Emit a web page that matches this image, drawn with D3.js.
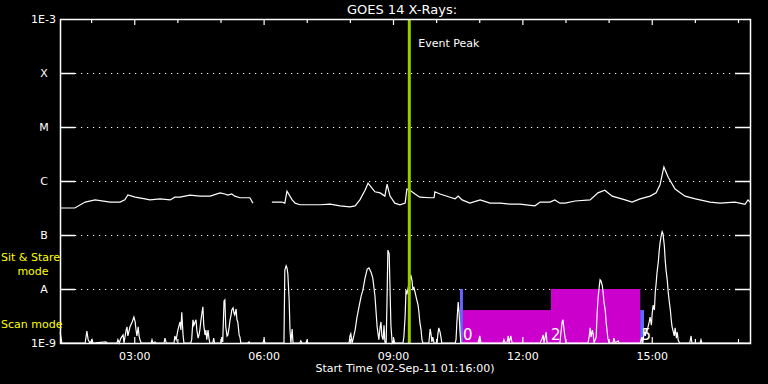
<!DOCTYPE html>
<html>
<head>
<meta charset="utf-8">
<script src="https://cdn.jsdelivr.net/npm/d3@7"></script>
<style>
  html, body { margin: 0; padding: 0; background: #000; }
  svg { display: block; font-family: "DejaVu Sans", sans-serif; }
</style>
</head>
<body>
<div id="chart"></div>
<script>
// GOES 14 x-ray flux, time in decimal hours (UT), flux as log10(W/m^2)
const START_HOUR = 1 + 16 / 60;
const END_HOUR = START_HOUR + 16;

const levelValues = [-9, -8, -7, -6, -5, -4, -3];
const levelLabels = ["1E-9", "A", "B", "C", "M", "X", "1E-3"];
const hourTicks = [2, 3, 4, 5, 6, 7, 8, 9, 10, 11, 12, 13, 14, 15, 16, 17];
const labelHours = [3, 6, 9, 12, 15];
const labelText = ["03:00", "06:00", "09:00", "12:00", "15:00"];

// long channel (1-8 A); null = data gap
const longTime = [1.27,1.61,1.85,2.08,2.43,2.66,2.77,2.84,3.01,3.24,3.35,3.59,3.82,3.93,4.05,4.28,4.51,4.75,4.98,5.09,5.16,5.25,5.32,5.44,5.67,5.74,5.95,
  6.18,6.41,6.48,6.53,6.65,6.72,6.83,7.06,7.30,7.53,7.76,7.99,8.11,8.22,8.34,8.41,8.50,8.57,8.69,8.80,8.85,8.92,9.03,9.15,9.27,9.31,9.38,9.50,9.61,9.85,9.94,9.96,
  10.08,10.31,10.43,10.50,10.59,10.77,11.01,11.24,11.47,11.70,11.93,12.28,12.40,12.63,12.74,12.86,12.98,13.21,13.56,13.74,13.90,14.07,14.37,14.53,14.72,14.95,
  15.09,15.18,15.27,15.37,15.53,15.76,16.00,16.34,16.57,16.92,17.15,17.22,17.27];
const longFlux = [-6.50,-6.50,-6.39,-6.35,-6.39,-6.39,-6.35,-6.26,-6.30,-6.33,-6.35,-6.33,-6.35,-6.30,-6.30,-6.26,-6.28,-6.28,-6.22,-6.24,-6.26,-6.24,-6.28,-6.31,-6.31,-6.41,null,
  -6.39,-6.39,-6.41,-6.19,-6.35,-6.41,-6.44,-6.44,-6.44,-6.43,-6.46,-6.48,-6.46,-6.35,-6.17,-6.04,-6.13,-6.20,-6.22,-6.28,-6.06,-6.28,-6.41,-6.44,-6.41,-6.15,-6.17,-6.24,-6.30,-6.31,-6.31,-6.20,
  -6.24,-6.30,-6.33,-6.28,-6.35,-6.41,-6.35,-6.41,-6.41,-6.43,-6.43,-6.46,-6.39,-6.39,-6.35,-6.41,-6.41,-6.37,-6.35,-6.22,-6.17,-6.28,-6.35,-6.39,-6.33,-6.28,
  -6.22,-6.07,-5.74,-5.93,-6.15,-6.28,-6.33,-6.39,-6.41,-6.39,-6.43,-6.35,-6.39];

// short channel (0.5-4 A); -9.3 = below the plotted range
const shortTime = [1.27,1.31,1.85,1.89,1.92,1.96,2.01,2.03,2.33,2.36,
  2.59,2.61,2.64,2.68,2.73,2.75,2.80,2.82,2.84,2.89,2.94,2.98,3.01,3.03,3.05,3.08,3.10,3.12,3.15,
  3.38,3.40,3.42,3.47,3.49,3.68,3.70,3.73,
  3.91,3.93,3.96,4.00,4.05,4.07,4.09,4.12,4.14,
  4.30,4.32,4.35,4.37,4.40,4.42,4.44,4.47,4.49,4.51,4.53,4.56,4.58,4.60,4.63,4.65,4.67,4.70,4.72,4.74,4.81,4.83,4.85,
  5.00,5.02,5.04,5.07,5.09,5.11,5.14,5.16,5.19,5.21,5.23,5.25,5.28,5.30,5.32,5.35,5.37,5.39,5.42,5.44,5.46,
  5.62,5.65,5.67,5.97,6.00,6.02,
  6.46,6.48,6.51,6.53,6.55,6.58,6.60,6.62,6.65,6.67,6.83,6.85,6.88,6.97,6.99,7.02,
  7.97,7.99,8.01,8.04,8.08,8.11,8.15,8.20,8.25,8.29,8.34,8.39,8.43,8.48,8.52,8.57,8.62,8.66,8.69,8.71,8.73,8.76,8.78,8.80,8.83,8.85,8.87,8.90,8.92,8.94,8.97,9.01,9.03,
  9.22,9.24,9.27,9.29,9.31,9.36,9.38,9.40,9.43,9.45,9.47,9.50,9.52,9.54,9.57,9.59,9.61,9.64,9.66,9.68,
  9.82,9.85,9.87,9.89,9.91,9.94,10.01,10.03,10.05,10.08,10.10,10.12,
  10.43,10.45,10.47,10.50,10.52,10.54,10.56,10.96,10.98,11.00,11.03,
  11.54,11.56,11.59,11.63,11.66,11.68,11.72,11.75,
  12.40,12.45,12.47,12.49,12.54,12.56,
  12.86,12.88,12.91,12.93,12.95,12.98,13.00,
  13.51,13.54,13.56,13.58,13.61,13.63,13.65,13.70,13.72,13.74,13.77,13.79,13.81,13.84,13.86,13.88,13.91,13.93,13.95,13.97,14.00,
  14.09,14.11,14.14,14.21,14.23,
  14.72,14.76,14.77,14.82,14.84,14.86,14.88,14.93,14.95,14.98,15.00,15.02,15.05,15.07,15.09,15.11,15.14,15.16,15.18,15.21,15.23,15.25,15.28,15.30,15.32,15.35,15.37,15.39,15.42,15.44,15.46,15.49,15.51,15.53,15.56,15.58,15.60,15.63,
  15.87,15.90,15.92,16.11,16.13,16.15,17.27];
const shortFlux = [-8.80,-9.3,-9.3,-8.78,-8.94,-9.3,-8.94,-9.3,-8.98,-9.3,
  -9.3,-8.94,-9.3,-8.91,-8.85,-9.0,-8.76,-8.70,-8.87,-8.70,-8.61,-8.52,-8.61,-8.76,-8.87,-8.70,-8.87,-8.94,-9.3,
  -9.3,-8.94,-9.3,-8.98,-9.3,-9.3,-8.91,-9.3,
  -9.3,-8.87,-8.94,-8.76,-8.61,-8.76,-8.43,-8.85,-9.3,
  -9.3,-8.94,-8.57,-8.67,-8.61,-8.57,-8.76,-8.91,-8.85,-8.76,-8.61,-8.43,-8.33,-8.67,-8.85,-8.76,-8.94,-8.76,-8.91,-9.3,-9.3,-8.91,-9.3,
  -9.3,-8.89,-8.98,-8.22,-8.20,-8.70,-8.87,-8.85,-8.70,-8.57,-8.50,-8.39,-8.35,-8.44,-8.48,-8.37,-8.57,-8.61,-8.85,-8.89,-9.3,
  -9.3,-8.98,-9.3,-9.3,-8.94,-9.3,
  -9.3,-7.65,-7.57,-7.61,-7.72,-8.20,-8.76,-9.3,-8.74,-9.3,-9.3,-8.96,-9.3,-9.3,-8.96,-9.3,
  -9.3,-8.87,-8.83,-9.3,-8.87,-8.76,-8.54,-8.33,-8.13,-8.02,-7.80,-7.63,-7.61,-7.69,-7.80,-8.13,-8.70,-8.94,-8.70,-8.61,-8.87,-8.94,-8.67,-8.98,-9.3,-8.20,-7.28,-7.35,-8.02,-8.67,-9.3,-8.94,-9.3,
  -9.3,-8.89,-8.50,-8.02,-8.10,-7.90,-7.80,-7.74,-7.85,-8.02,-7.96,-8.06,-8.13,-8.20,-8.30,-8.43,-8.61,-8.76,-8.94,-9.3,
  -9.3,-8.74,-8.83,-8.98,-8.89,-9.3,-9.3,-8.83,-8.72,-8.80,-8.89,-9.3,
  -9.3,-8.94,-8.61,-8.24,-8.44,-8.76,-9.3,-9.3,-8.94,-8.87,-9.3,
  -9.3,-8.94,-9.3,-9.3,-8.87,-9.3,-8.87,-9.3,
  -9.3,-8.91,-8.85,-9.3,-8.80,-9.3,
  -9.3,-8.83,-8.61,-8.57,-8.72,-8.91,-9.3,
  -9.3,-8.87,-8.72,-8.89,-8.76,-8.83,-9.3,-8.89,-8.48,-8.20,-7.96,-7.83,-7.85,-7.93,-8.06,-8.24,-8.39,-8.61,-8.76,-8.91,-9.3,
  -9.3,-8.91,-9.3,-8.96,-9.3,
  -9.3,-8.89,-9.0,-8.80,-8.87,-8.74,-8.78,-8.61,-8.52,-8.67,-8.44,-8.30,-8.39,-8.06,-7.90,-7.70,-7.50,-7.30,-7.15,-7.00,-6.94,-6.98,-7.20,-7.46,-7.65,-7.85,-8.06,-8.20,-8.39,-8.57,-8.70,-8.80,-8.87,-8.72,-8.91,-8.80,-8.94,-9.3,
  -9.3,-8.87,-9.3,-9.3,-8.94,-9.3,-9.3];

// instrument mode blocks (magenta) and switch markers (blue)
const modeStart = [10.61, 12.65];
const modeEnd = [12.65, 14.72];
const modeTop = [-8.39, -8.0];
const switchStart = [10.54, 14.72];
const switchEnd = [10.61, 14.81];
const switchTop = [-8.0, -8.39];
const modeLabelTime = [10.61, 12.65, 14.75];
const modeLabels = ["0", "2", "5"];

const EVENT_PEAK = 9 + 22 / 60;

const width = 768, height = 384;
const margin = { top: 19, right: 18, bottom: 41, left: 60 };

const x = d3.scaleLinear().domain([START_HOUR, END_HOUR]).range([margin.left, width - margin.right]);
const y = d3.scaleLinear().domain([-9, -3]).range([height - margin.bottom, margin.top]).clamp(true);

const svg = d3.select("#chart").append("svg")
    .attr("width", width)
    .attr("height", height)
    .style("background", "#000");

const x0 = x.range()[0], x1 = x.range()[1];

// dotted level lines
svg.append("g")
   .selectAll("line")
   .data(levelValues.slice(1, -1))
   .enter().append("line")
   .attr("x1", x0 + 15).attr("x2", x1 - 15)
   .attr("y1", d => y(d) + 0.5).attr("y2", d => y(d) + 0.5)
   .attr("stroke", "#fff")
   .attr("stroke-width", 1.2)
   .attr("stroke-dasharray", "1.2,4.8");

// mode blocks
svg.append("g")
   .selectAll("rect")
   .data(modeStart)
   .enter().append("rect")
   .attr("x", (d, i) => x(d))
   .attr("width", (d, i) => x(modeEnd[i]) - x(d))
   .attr("y", (d, i) => y(modeTop[i]))
   .attr("height", (d, i) => y(-9) - y(modeTop[i]))
   .attr("fill", "#cc00cc");

svg.append("g")
   .selectAll("rect")
   .data(switchStart)
   .enter().append("rect")
   .attr("x", (d, i) => x(d))
   .attr("width", (d, i) => x(switchEnd[i]) - x(d))
   .attr("y", (d, i) => y(switchTop[i]))
   .attr("height", (d, i) => y(-9) - y(switchTop[i]))
   .attr("fill", "#6666ff");

// flux curves
const longData = longTime.map((t, i) => [t, longFlux[i]]);
const shortData = shortTime.map((t, i) => [t, shortFlux[i]]);

const line = d3.line()
    .defined(d => d[1] != null)
    .x(d => x(d[0]))
    .y(d => y(d[1]));

svg.append("path")
   .datum(longData)
   .attr("d", line)
   .attr("fill", "none")
   .attr("stroke", "#fff")
   .attr("stroke-width", 1.2);

svg.append("path")
   .datum(shortData)
   .attr("d", line)
   .attr("fill", "none")
   .attr("stroke", "#fff")
   .attr("stroke-width", 1.2);

// mode numbers
svg.append("g")
   .selectAll("text")
   .data(modeLabels)
   .enter().append("text")
   .attr("x", (d, i) => x(modeLabelTime[i]))
   .attr("y", y(-9) - 3)
   .attr("fill", "#fff")
   .attr("font-size", 15)
   .text(d => d);

// event peak marker
svg.append("line")
   .attr("x1", x(EVENT_PEAK)).attr("x2", x(EVENT_PEAK))
   .attr("y1", y(-3)).attr("y2", y(-9))
   .attr("stroke", "#99cc00")
   .attr("stroke-width", 3);

svg.append("text")
   .attr("x", x(EVENT_PEAK) + 9)
   .attr("y", 47)
   .attr("fill", "#fff")
   .attr("font-size", 11)
   .text("Event Peak");

// frame
svg.append("rect")
   .attr("x", x0 + 0.5).attr("y", y(-3) + 0.5)
   .attr("width", x1 - x0).attr("height", y(-9) - y(-3))
   .attr("fill", "none")
   .attr("stroke", "#fff")
   .attr("stroke-width", 1.5);

// level ticks on both sides
const lv = svg.append("g");
lv.selectAll(".tl")
  .data(levelValues.slice(1, -1))
  .enter().append("line")
  .attr("x1", x0).attr("x2", x0 + 15)
  .attr("y1", d => y(d) + 0.5).attr("y2", d => y(d) + 0.5)
  .attr("stroke", "#fff").attr("stroke-width", 1.5);
lv.selectAll(".tr")
  .data(levelValues.slice(1, -1))
  .enter().append("line")
  .attr("x1", x1 - 15).attr("x2", x1)
  .attr("y1", d => y(d) + 0.5).attr("y2", d => y(d) + 0.5)
  .attr("stroke", "#fff").attr("stroke-width", 1.5);

svg.append("g")
   .selectAll("text")
   .data(levelLabels)
   .enter().append("text")
   .attr("x", (d, i) => (i === 0 || i === levelLabels.length - 1) ? x0 - 4 : x0 - 16)
   .attr("y", (d, i) => y(levelValues[i]) + 4)
   .attr("text-anchor", (d, i) => (i === 0 || i === levelLabels.length - 1) ? "end" : "middle")
   .attr("fill", "#fff")
   .attr("font-size", 11)
   .text(d => d);

// hour ticks, top and bottom
const isMajor = h => labelHours.indexOf(h) > -1;
svg.append("g")
   .selectAll("line")
   .data(hourTicks)
   .enter().append("line")
   .attr("x1", d => x(d)).attr("x2", d => x(d))
   .attr("y1", y(-3)).attr("y2", d => y(-3) + (isMajor(d) ? 6 : 4))
   .attr("stroke", "#fff").attr("stroke-width", 1.2);
svg.append("g")
   .selectAll("line")
   .data(hourTicks)
   .enter().append("line")
   .attr("x1", d => x(d)).attr("x2", d => x(d))
   .attr("y1", y(-9)).attr("y2", d => y(-9) - (isMajor(d) ? 6 : 4))
   .attr("stroke", "#fff").attr("stroke-width", 1.2);

svg.append("g")
   .selectAll("text")
   .data(labelText)
   .enter().append("text")
   .attr("x", (d, i) => x(labelHours[i]))
   .attr("y", y(-9) + 17)
   .attr("text-anchor", "middle")
   .attr("fill", "#fff")
   .attr("font-size", 11)
   .text(d => d);

svg.append("text")
   .attr("x", 405).attr("y", 372)
   .attr("text-anchor", "middle")
   .attr("fill", "#fff")
   .attr("font-size", 11)
   .text("Start Time (02-Sep-11 01:16:00)");

svg.append("text")
   .attr("x", 402).attr("y", 14)
   .attr("text-anchor", "middle")
   .attr("fill", "#fff")
   .attr("font-size", 13)
   .text("GOES 14 X-Rays:");

// mode legend
svg.append("text")
   .attr("x", 1).attr("y", 261)
   .attr("fill", "#ffff00").attr("font-size", 11)
   .text("Sit & Stare");
svg.append("text")
   .attr("x", 33).attr("y", 275)
   .attr("text-anchor", "middle")
   .attr("fill", "#ffff00").attr("font-size", 11)
   .text("mode");
svg.append("text")
   .attr("x", 1).attr("y", 328)
   .attr("fill", "#ffff00").attr("font-size", 11)
   .text("Scan mode");
</script>
</body>
</html>
